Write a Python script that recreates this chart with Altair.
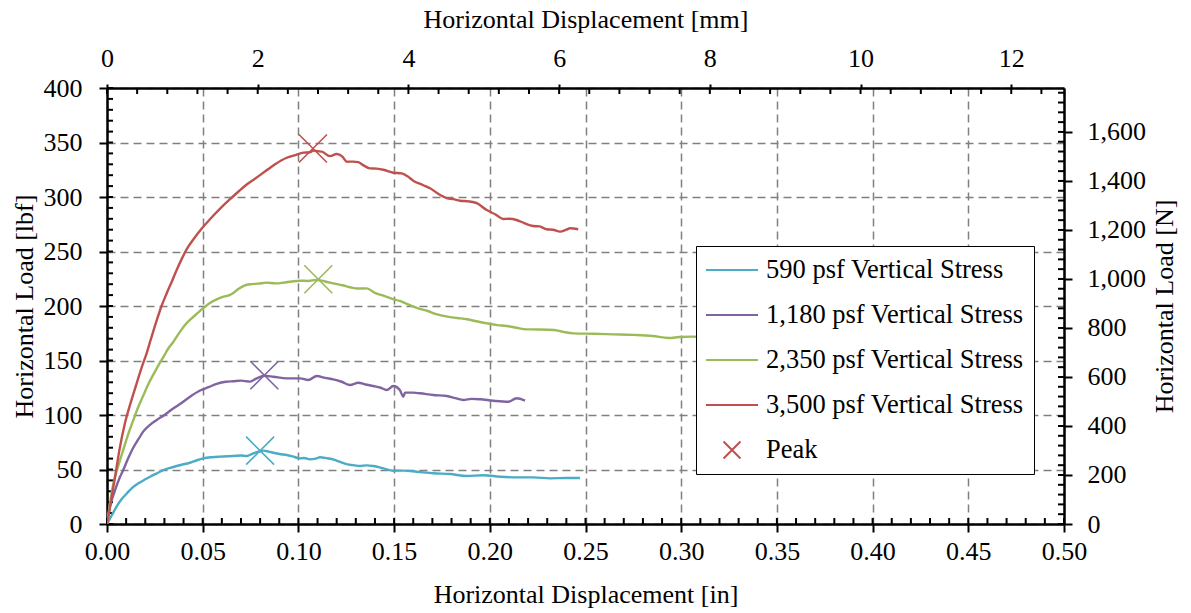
import altair as alt
import pandas as pd

FONT = "Liberation Serif"
W, H = 957, 436

# ---------------- data ----------------
S1 = "590 psf Vertical Stress"
S2 = "1,180 psf Vertical Stress"
S3 = "2,350 psf Vertical Stress"
S4 = "3,500 psf Vertical Stress"
PEAK = "Peak"
series_names = [S1, S2, S3, S4]
series_colors = ["#4BACC6", "#8064A2", "#9BBB59", "#C0504D"]
legend_labels = [S1, S2, S3, S4, PEAK]
legend_colors = ["#4BACC6", "#8064A2", "#9BBB59", "#C0504D", "#C0504D"]
LINE_PATH = "M-2,0L2,0"
XL_PATH = "M-0.65,-0.65L0.65,0.65M0.65,-0.65L-0.65,0.65"
legend_shapes = [LINE_PATH, LINE_PATH, LINE_PATH, LINE_PATH, XL_PATH]
X_PATH = "M-1,-1L1,1M1,-1L-1,1"

x590 = [0, 0.0025, 0.005, 0.0075, 0.0103, 0.013, 0.0164, 0.020, 0.0225, 0.026, 0.0294,
        0.033, 0.0364, 0.040, 0.0434, 0.047, 0.0503, 0.055, 0.059, 0.066, 0.070, 0.073,
        0.0764, 0.0795, 0.0817, 0.0845, 0.0869, 0.090, 0.0939, 0.097, 0.1008, 0.103,
        0.106, 0.109, 0.1113, 0.115, 0.1182, 0.121, 0.1252, 0.1285, 0.1322, 0.1355,
        0.1391, 0.1444, 0.1496, 0.155, 0.1618, 0.1705, 0.1792, 0.1879, 0.1966, 0.2053,
        0.214, 0.2227, 0.2315, 0.2402, 0.2471]
y590 = [0, 8, 16, 22.5, 28, 33, 37.3, 41, 43.4, 46.5, 49.5,
        51.5, 53.2, 54.8, 56.2, 58.5, 60.2, 61.3, 61.8, 62.4, 62.8, 62.4,
        64.8, 66.5, 67.3, 66.4, 65.4, 64.2, 63.3, 62.0, 60.2, 60.5,
        59.3, 60.0, 61.2, 60.3, 59.3, 57.5, 55.0, 54.0, 53.2, 53.8,
        53.2, 51.1, 48.9, 49.0, 48.0, 46.5, 45.9, 44.0, 44.7, 43.4,
        42.8, 42.8, 41.9, 42.2, 42.2]

x1180 = [0, 0.0016, 0.004, 0.0065, 0.0085, 0.011, 0.0137, 0.0165, 0.019, 0.0225, 0.026,
         0.030, 0.0346, 0.0381, 0.0434, 0.0486, 0.0530, 0.0573, 0.062, 0.066, 0.070,
         0.0747, 0.0782, 0.0822, 0.0869, 0.0939, 0.1008, 0.1052, 0.1096, 0.1140, 0.1182,
         0.1226, 0.127, 0.1313, 0.1350, 0.1391, 0.1430, 0.1461, 0.1496, 0.1530, 0.1548,
         0.1557, 0.160, 0.1635, 0.1705, 0.1775, 0.1820, 0.1862, 0.1905, 0.1949, 0.2018,
         0.2097, 0.2140, 0.2184]
y1180 = [0, 16, 30, 42, 49.5, 60, 70, 78, 85, 91, 95.4,
         100, 106, 110, 116.8, 122.5, 125.5, 128.5, 130.5, 131, 131.5,
         130.6, 133.6, 136, 135.1, 133.6, 133.6, 132.1, 135.8, 134.0, 132.7,
         130.5, 127.5, 129.6, 128, 126.6, 125, 122.9, 126.6, 122.9, 116.8,
         120.5, 120.5, 119.9, 118.3, 117.4, 115.5, 113.8, 114.8, 114.4, 113.1,
         112.2, 115.3, 113.1]

x2350 = [0, 0.0033, 0.0060, 0.0085, 0.011, 0.0137, 0.016, 0.019, 0.0215, 0.0242, 0.027,
         0.0294, 0.032, 0.0346, 0.038, 0.0410, 0.0438, 0.047, 0.0503, 0.0540, 0.0573,
         0.0610, 0.0640, 0.0660, 0.0690, 0.0720, 0.0747, 0.0790, 0.0834, 0.0880, 0.0921,
         0.0965, 0.1008, 0.1050, 0.1096, 0.1140, 0.1182, 0.1230, 0.127, 0.1310, 0.1357,
         0.1400, 0.1448, 0.1490, 0.1530, 0.1560, 0.1593, 0.1630, 0.1675, 0.1720, 0.1778,
         0.1830, 0.1882, 0.1930, 0.1985, 0.2040, 0.2088, 0.2140, 0.2191, 0.2250, 0.2335,
         0.2390, 0.2438, 0.2540, 0.2645, 0.2750, 0.2851, 0.2934, 0.2990, 0.3056, 0.3100]
y2350 = [0, 37, 54, 68, 82, 95, 106, 118, 128, 137, 146,
         153, 161, 167, 176, 183, 188, 193, 198, 203, 206,
         208.5, 210, 212, 216, 219, 220, 220.5, 221.4, 220.8, 221.4,
         222.5, 223.2, 223, 223.9, 222.5, 220.8, 219, 217.2, 216, 216.2,
         212, 209.2, 206.5, 204.6, 202.5, 200, 197.5, 195.4, 192.5, 190.2,
         189, 187.8, 186, 184.1, 182.5, 181.7, 180, 178.6, 178.5, 178,
         176, 174.9, 174.5, 174, 173.5, 172.5, 170.6, 171.5, 171.9, 171.5]

x3500 = [0, 0.002, 0.0042, 0.0065, 0.0094, 0.0125, 0.0155, 0.018, 0.0207, 0.023, 0.026,
         0.0285, 0.0312, 0.034, 0.0364, 0.039, 0.0416, 0.0451, 0.0495, 0.0556, 0.0600,
         0.0643, 0.0690, 0.0730, 0.0775, 0.0834, 0.0878, 0.0939,
         0.0985, 0.1026, 0.1060, 0.1078, 0.1100, 0.1122, 0.1165, 0.1200, 0.1230, 0.1252,
         0.1285, 0.1313, 0.1340, 0.1374, 0.1410, 0.1444, 0.1496, 0.154, 0.157, 0.160,
         0.1650, 0.1688, 0.1730, 0.1775, 0.1810, 0.1844, 0.1890, 0.1932, 0.1984, 0.2030,
         0.207, 0.2100, 0.214, 0.2180, 0.2227, 0.2260, 0.2297, 0.2330, 0.2367, 0.2400,
         0.2419, 0.2462]
y3500 = [0, 20, 43, 68, 92.6, 112, 129, 143, 156.6, 170, 187,
         200, 211.7, 223, 233, 243, 252, 261, 271, 283, 291,
         298, 305.5, 311.5, 317, 324.5, 330, 336,
         338.5, 340.7, 341, 342.6, 342, 341.6, 337.5, 339.4, 337, 332.4,
         332.5, 332, 329, 326.3, 326, 325, 322.3, 321.7, 319, 315,
         311, 308, 303, 299, 298, 296.6, 296, 294.3, 288, 284,
         279.8, 280, 278.9, 276, 273.4, 273, 270.4, 270, 268.2, 270,
         271.3, 270.4]

peak_series = [S1, S2, S3, S4]
peak_x = [0.0800, 0.0822, 0.1104, 0.1076]
peak_y = [67.3, 136.5, 224.5, 344.5]

# axis tick values
x_major = [0, 0.05, 0.10, 0.15, 0.20, 0.25, 0.30, 0.35, 0.40, 0.45, 0.50]
y_major = [0, 50, 100, 150, 200, 250, 300, 350, 400]
mm_major = [0, 2, 4, 6, 8, 10, 12]
n_major = [0, 200, 400, 600, 800, 1000, 1200, 1400, 1600]
x_ticks_all = [round(i * 0.01, 2) for i in range(51)]
y_ticks_all = [i * 10 for i in range(41)]
mm_ticks_all = [round(i * 0.4, 1) for i in range(32)]
n_ticks_all = [i * 40 for i in range(45)]

IN_MAX = 0.5
LBF_MAX = 400
MM_MAX = IN_MAX * 25.4
N_MAX = LBF_MAX * 4.4482216

# ---------------- frames ----------------
rows = []
for name, xs, ys in [(S1, x590, y590), (S2, x1180, y1180), (S3, x2350, y2350), (S4, x3500, y3500)]:
    for i, (a, b) in enumerate(zip(xs, ys)):
        rows.append({"series": name, "x": a, "y": b, "i": i})
lines_df = pd.DataFrame(rows)
peaks_df = pd.DataFrame({"series": peak_series, "x": peak_x, "y": peak_y})
dummy_df = pd.DataFrame({"label": legend_labels, "x": [None] * 5, "y": [None] * 5})
xt_df = pd.DataFrame({"t": x_ticks_all})
yt_df = pd.DataFrame({"t": y_ticks_all})
mmt_df = pd.DataFrame({"t": mm_ticks_all})
nt_df = pd.DataFrame({"t": n_ticks_all})

# ---------------- scales / axes ----------------
x_scale = alt.Scale(domain=[0, IN_MAX], nice=False, zero=False)
y_scale = alt.Scale(domain=[0, LBF_MAX], nice=False, zero=False)
mm_scale = alt.Scale(domain=[0, MM_MAX], nice=False, zero=False)
n_scale = alt.Scale(domain=[0, N_MAX], nice=False, zero=False)
stroke_scale = alt.Scale(domain=series_names, range=series_colors)

common = dict(
    domainColor="black", domainWidth=2.5, tickColor="black", tickWidth=2,
    labelFont=FONT, labelFontSize=26, labelColor="black",
    titleFont=FONT, titleFontSize=26, titleFontWeight="normal", titleColor="black",
    labelOverlap=False,
)
grid_style = dict(grid=True, gridColor="#808080", gridDash=[8, 5], gridWidth=1.5)

ax_bottom = alt.Axis(title="Horizontal Displacement [in]", orient="bottom", values=x_major,
                     format=".2f", tickSize=8, labelPadding=27, labelBaseline="alphabetic",
                     labelFlush=False, titleX=W / 2, titleY=78, titleAlign="center",
                     titleBaseline="alphabetic", **grid_style, **common)
ax_left = alt.Axis(title="Horizontal Load [lbf]", orient="left", values=y_major, format="d",
                   tickSize=8, labelPadding=17, titleAngle=270, titleX=-75, titleY=H / 2,
                   titleAlign="center", titleBaseline="alphabetic", **grid_style, **common)
ax_top = alt.Axis(title="Horizontal Displacement [mm]", orient="top", values=mm_major, format="d",
                  grid=False, tickSize=4, labelPadding=18, labelBaseline="alphabetic",
                  labelFlush=False, titleX=W / 2, titleY=-61, titleAlign="center",
                  titleBaseline="alphabetic", **common)
ax_right = alt.Axis(title="Horizontal Load [N]", orient="right", values=n_major, format=",d",
                    grid=False, tickSize=8, labelPadding=15, titleAngle=270, titleX=108,
                    titleY=H / 2, titleAlign="center", titleBaseline="alphabetic", **common)

LEG = alt.Legend(title=None, orient="none", legendX=589, legendY=158, direction="vertical",
                 fillColor="white", strokeColor="black", padding=10, cornerRadius=0,
                 labelFont=FONT, labelFontSize=26.5, labelColor="black", labelOffset=20,
                 labelLimit=600, symbolSize=676, symbolStrokeWidth=2, symbolOffset=12,
                 rowPadding=17, symbolFillColor="transparent")

X_in = alt.X("x:Q", scale=x_scale, axis=ax_bottom)
Y_lbf = alt.Y("y:Q", scale=y_scale, axis=ax_left)

lines = alt.Chart(lines_df).mark_line(strokeWidth=2.4, clip=True, interpolate="monotone").encode(
    x=X_in, y=Y_lbf,
    stroke=alt.Stroke("series:N", scale=stroke_scale, legend=None),
    order=alt.Order("i:Q"),
)
peaks = alt.Chart(peaks_df).mark_point(shape=X_PATH, size=784, filled=False, strokeWidth=1.6,
                                       opacity=1).encode(
    x=X_in, y=Y_lbf,
    stroke=alt.Stroke("series:N", scale=stroke_scale, legend=None),
)
dummy = alt.Chart(dummy_df).mark_point(filled=False, opacity=1, strokeWidth=2,
                                       invalid="filter").encode(
    x=X_in, y=Y_lbf,
    color=alt.Color("label:N", scale=alt.Scale(domain=legend_labels, range=legend_colors),
                    legend=LEG),
    shape=alt.Shape("label:N", scale=alt.Scale(domain=legend_labels, range=legend_shapes),
                    legend=LEG),
)
bt = alt.Chart(xt_df).mark_rule(color="black", strokeWidth=2).encode(
    x=alt.X("t:Q", scale=x_scale, axis=ax_bottom), y=alt.value(H), y2=alt.value(H - 6))
lt = alt.Chart(yt_df).mark_rule(color="black", strokeWidth=2).encode(
    y=alt.Y("t:Q", scale=y_scale, axis=ax_left), x=alt.value(0), x2=alt.value(6))
tt = alt.Chart(mmt_df).mark_rule(color="black", strokeWidth=2).encode(
    x=alt.X("t:Q", scale=mm_scale, axis=ax_top), y=alt.value(0), y2=alt.value(6))
rt = alt.Chart(nt_df).mark_rule(color="black", strokeWidth=2).encode(
    y=alt.Y("t:Q", scale=n_scale, axis=ax_right), x=alt.value(W - 6), x2=alt.value(W))

group1 = alt.layer(bt, lt, lines, peaks, dummy)
group2 = alt.layer(tt, rt)

chart = alt.layer(group1, group2).resolve_scale(x="independent", y="independent").properties(
    width=W, height=H,
    padding={"left": 107, "top": 88, "right": 1191 - 107 - W, "bottom": 613 - 88 - H},
    autosize=alt.AutoSizeParams(type="none"),
    background="white",
).configure(font=FONT).configure_view(stroke=None)

chart.save("out.html", embed_options={"renderer": "svg", "actions": False})
